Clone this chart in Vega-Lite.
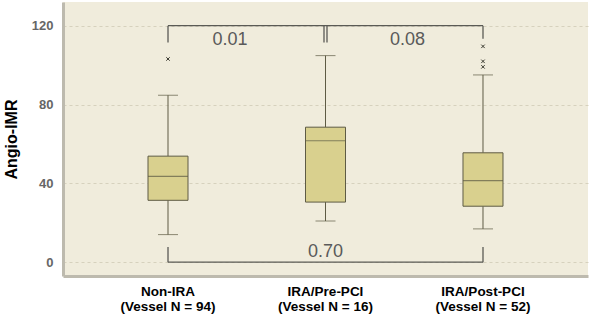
{
  "$schema": "https://vega.github.io/schema/vega-lite/v6.json",
  "width": 525,
  "height": 274,
  "autosize": {"type": "none"},
  "padding": {"left": 63, "top": 2, "right": 2, "bottom": 41},
  "background": "white",
  "config": {
    "view": {"fill": "#F0ECDC", "stroke": null},
    "font": "Liberation Sans"
  },
  "datasets": {
    "boxes": [
      {"group": "Non-IRA|(Vessel N = 94)", "lower": 14.0, "q1": 31.4, "median": 43.5, "q3": 53.8, "upper": 84.7},
      {"group": "IRA/Pre-PCI|(Vessel N = 16)", "lower": 20.9, "q1": 30.5, "median": 61.6, "q3": 68.5, "upper": 104.8},
      {"group": "IRA/Post-PCI|(Vessel N = 52)", "lower": 16.9, "q1": 28.4, "median": 41.4, "q3": 55.5, "upper": 95.0}
    ],
    "outliers": [
      {"group": "Non-IRA|(Vessel N = 94)", "value": 103.1},
      {"group": "IRA/Post-PCI|(Vessel N = 52)", "value": 109.5},
      {"group": "IRA/Post-PCI|(Vessel N = 52)", "value": 101.9},
      {"group": "IRA/Post-PCI|(Vessel N = 52)", "value": 99.1}
    ],
    "brackets": [
      {"a": "Non-IRA|(Vessel N = 94)", "b": "IRA/Post-PCI|(Vessel N = 52)", "y1": 120, "y2": 120},
      {"a": "Non-IRA|(Vessel N = 94)", "b": "Non-IRA|(Vessel N = 94)", "y1": 111.5, "y2": 120},
      {"a": "IRA/Post-PCI|(Vessel N = 52)", "b": "IRA/Post-PCI|(Vessel N = 52)", "y1": 113.3, "y2": 120},
      {"a": "Non-IRA|(Vessel N = 94)", "b": "IRA/Post-PCI|(Vessel N = 52)", "y1": 0, "y2": 0},
      {"a": "Non-IRA|(Vessel N = 94)", "b": "Non-IRA|(Vessel N = 94)", "y1": 0, "y2": 7.7},
      {"a": "IRA/Post-PCI|(Vessel N = 52)", "b": "IRA/Post-PCI|(Vessel N = 52)", "y1": 0, "y2": 7.7}
    ],
    "middle": [
      {"a": "IRA/Pre-PCI|(Vessel N = 16)", "y1": 111.5, "y2": 120}
    ],
    "pvalues": [
      {"group": "Non-IRA|(Vessel N = 94)", "y": 112.9, "p": "0.01", "shift": "left"},
      {"group": "IRA/Pre-PCI|(Vessel N = 16)", "y": 112.9, "p": "0.08", "shift": "right"},
      {"group": "IRA/Pre-PCI|(Vessel N = 16)", "y": 5.3, "p": "0.70", "shift": "none"}
    ]
  },
  "encoding": {
    "x": {
      "field": "group",
      "type": "nominal",
      "sort": null,
      "scale": {"type": "band", "paddingInner": 0, "paddingOuter": 0.1667, "domain": ["Non-IRA|(Vessel N = 94)", "IRA/Pre-PCI|(Vessel N = 16)", "IRA/Post-PCI|(Vessel N = 52)"]},
      "axis": {
        "title": null,
        "labelAngle": 0,
        "labelExpr": "split(datum.value, '|')",
        "labelFont": "Liberation Sans",
        "labelFontSize": 13.5,
        "labelFontWeight": "bold",
        "labelColor": "#000000",
        "labelLineHeight": 15,
        "labelPadding": 8,
        "ticks": false,
        "domainColor": "#BDBAAE",
        "domainWidth": 3,
        "grid": false
      }
    },
    "y": {
      "type": "quantitative",
      "scale": {"domain": [-7, 132], "nice": false, "zero": false},
      "axis": {
        "title": "Angio-IMR",
        "titleFont": "Liberation Sans",
        "titleFontSize": 16,
        "titleFontWeight": "bold",
        "titleColor": "#000000",
        "titlePadding": 12,
        "values": [0, 40, 80, 120],
        "labelFont": "Liberation Sans",
        "labelFontSize": 13,
        "labelFontWeight": "bold",
        "labelColor": "#666666",
        "labelPadding": 10,
        "ticks": false,
        "domainColor": "#BDBAAE",
        "domainWidth": 3,
        "grid": true,
        "gridColor": "#D6D1BD",
        "gridDash": [3, 3],
        "gridWidth": 1
      }
    }
  },
  "layer": [
    {
      "data": {"name": "boxes"},
      "mark": {"type": "rule", "color": "#5E5B44", "strokeWidth": 1},
      "encoding": {"y": {"field": "lower"}, "y2": {"field": "q1"}}
    },
    {
      "data": {"name": "boxes"},
      "mark": {"type": "rule", "color": "#5E5B44", "strokeWidth": 1},
      "encoding": {"y": {"field": "q3"}, "y2": {"field": "upper"}}
    },
    {
      "data": {"name": "boxes"},
      "mark": {"type": "tick", "color": "#5E5B44", "size": 20, "thickness": 1},
      "encoding": {"y": {"field": "lower"}}
    },
    {
      "data": {"name": "boxes"},
      "mark": {"type": "tick", "color": "#5E5B44", "size": 20, "thickness": 1},
      "encoding": {"y": {"field": "upper"}}
    },
    {
      "data": {"name": "boxes"},
      "mark": {"type": "bar", "size": 40, "fill": "#D9D08E", "stroke": "#5E5B44", "strokeWidth": 1},
      "encoding": {"y": {"field": "q1"}, "y2": {"field": "q3"}}
    },
    {
      "data": {"name": "boxes"},
      "mark": {"type": "tick", "color": "#5E5B44", "size": 40, "thickness": 1.2},
      "encoding": {"y": {"field": "median"}}
    },
    {
      "data": {"name": "outliers"},
      "mark": {"type": "point", "shape": "M-1,-1L1,1M1,-1L-1,1", "size": 12, "stroke": "#3A3A30", "strokeWidth": 1, "filled": false, "opacity": 1},
      "encoding": {"y": {"field": "value"}}
    },
    {
      "data": {"name": "brackets"},
      "mark": {"type": "rule", "color": "#5A5A55", "strokeWidth": 1.3},
      "encoding": {
        "x": {"field": "a", "type": "nominal"},
        "x2": {"field": "b"},
        "y": {"field": "y1"},
        "y2": {"field": "y2"}
      }
    },
    {
      "data": {"name": "middle"},
      "mark": {"type": "rule", "color": "#5A5A55", "strokeWidth": 1.3, "xOffset": -1.5},
      "encoding": {
        "x": {"field": "a", "type": "nominal"},
        "y": {"field": "y1"},
        "y2": {"field": "y2"}
      }
    },
    {
      "data": {"name": "middle"},
      "mark": {"type": "rule", "color": "#5A5A55", "strokeWidth": 1.3, "xOffset": 1.5},
      "encoding": {
        "x": {"field": "a", "type": "nominal"},
        "y": {"field": "y1"},
        "y2": {"field": "y2"}
      }
    },
    {
      "data": {"name": "pvalues"},
      "transform": [{"filter": "datum.shift == 'left'"}],
      "mark": {"type": "text", "font": "Liberation Sans", "fontSize": 18, "color": "#5A5A5A", "baseline": "middle", "dx": 62},
      "encoding": {"y": {"field": "y"}, "text": {"field": "p"}}
    },
    {
      "data": {"name": "pvalues"},
      "transform": [{"filter": "datum.shift == 'right'"}],
      "mark": {"type": "text", "font": "Liberation Sans", "fontSize": 18, "color": "#5A5A5A", "baseline": "middle", "dx": 82},
      "encoding": {"y": {"field": "y"}, "text": {"field": "p"}}
    },
    {
      "data": {"name": "pvalues"},
      "transform": [{"filter": "datum.shift == 'none'"}],
      "mark": {"type": "text", "font": "Liberation Sans", "fontSize": 18, "color": "#5A5A5A", "baseline": "middle"},
      "encoding": {"y": {"field": "y"}, "text": {"field": "p"}}
    }
  ]
}
